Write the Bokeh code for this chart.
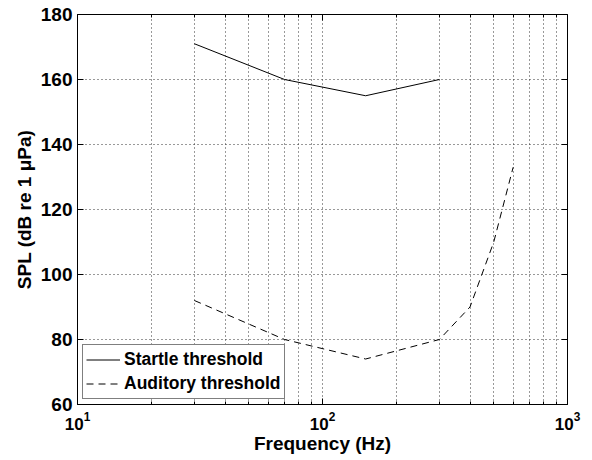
from bokeh.plotting import figure
from bokeh.models import (Range1d, FixedTicker, LinearAxis, Legend, LegendItem)
from bokeh.embed import file_html
from bokeh.resources import INLINE

# Data
startle_freq = [30, 70, 150, 300]
startle_spl = [171, 160, 155, 160]
auditory_freq = [30, 70, 150, 300, 400, 500, 600]
auditory_spl = [92, 80, 74, 80, 90, 110, 133]

x_major = [10, 100, 1000]
x_minor = [20, 30, 40, 50, 60, 70, 80, 90, 200, 300, 400, 500, 600, 700, 800, 900]
y_ticks = [60, 80, 100, 120, 140, 160, 180]

FONT = "Liberation Sans"

p = figure(width=592, height=460, x_axis_type="log",
           x_range=Range1d(10, 1000), y_range=Range1d(60, 180),
           output_backend="svg", toolbar_location=None,
           min_border_left=77, min_border_right=25, min_border_top=14, min_border_bottom=56)

p.background_fill_color = "white"
p.border_fill_color = "white"
p.outline_line_color = "black"
p.outline_line_width = 1

xt = FixedTicker(ticks=x_major, minor_ticks=x_minor)
yt = FixedTicker(ticks=y_ticks)
p.xaxis.ticker = xt
p.yaxis.ticker = yt

for ax in (p.xaxis[0], p.yaxis[0]):
    ax.axis_line_color = "black"
    ax.major_tick_line_color = "black"
    ax.minor_tick_line_color = "black"
    ax.major_tick_in = 6
    ax.major_tick_out = 0
    ax.minor_tick_in = 3
    ax.minor_tick_out = 0
    ax.major_label_text_font = FONT
    ax.major_label_text_font_style = "bold"
    ax.major_label_text_color = "black"
    ax.axis_label_text_font = FONT
    ax.axis_label_text_font_style = "bold"
    ax.axis_label_text_font_size = "19px"
    ax.axis_label_text_color = "black"

p.yaxis.major_label_text_font_size = "19px"
p.xaxis.major_label_text_font_size = "17px"
p.xaxis.axis_label = "Frequency (Hz)"
p.yaxis.axis_label = "SPL (dB re 1 μPa)"
p.yaxis.major_label_standoff = 5
p.xaxis.major_label_standoff = 7
p.xaxis.axis_label_standoff = 0
p.yaxis.axis_label_standoff = 3

# grid
p.xgrid.ticker = xt
p.ygrid.ticker = yt
for g in (p.xgrid[0], p.ygrid[0]):
    g.grid_line_color = "#333333"
    g.grid_line_dash = "1 3"
    g.grid_line_width = 1
p.xgrid.minor_grid_line_color = "#333333"
p.xgrid.minor_grid_line_dash = "1 3"
p.xgrid.minor_grid_line_width = 1

# ticks on top and right (box style)
top = LinearAxis(ticker=xt, major_label_text_font_size="1px", major_label_text_alpha=0,
                 major_tick_in=6, major_tick_out=0, minor_tick_in=3, minor_tick_out=0,
                 major_tick_line_color="black", minor_tick_line_color="black",
                 axis_line_color=None, major_label_standoff=0)
right = LinearAxis(ticker=yt, major_label_text_font_size="1px", major_label_text_alpha=0,
                   major_tick_in=6, major_tick_out=0, major_tick_line_color="black",
                   minor_tick_line_color=None, axis_line_color=None, major_label_standoff=0)
p.add_layout(top, "above")
p.add_layout(right, "right")

r1 = p.line(startle_freq, startle_spl, line_color="black", line_width=1)
r2 = p.line(auditory_freq, auditory_spl, line_color="black", line_width=1, line_dash="7 5")

legend = Legend(items=[LegendItem(label="Startle threshold", renderers=[r1]),
                       LegendItem(label="Auditory threshold", renderers=[r2])],
                location="bottom_left")
legend.label_text_font = FONT
legend.label_text_font_style = "bold"
legend.label_text_font_size = "17.5px"
legend.label_text_color = "black"
legend.border_line_color = "black"
legend.border_line_width = 1.5
legend.background_fill_color = "white"
legend.background_fill_alpha = 1
legend.glyph_width = 34
legend.glyph_height = 23
legend.label_height = 23
legend.spacing = 1
legend.padding = 3
legend.margin = 5
legend.label_standoff = 4
p.add_layout(legend)

open("out.html", "w").write(file_html(p, INLINE))
